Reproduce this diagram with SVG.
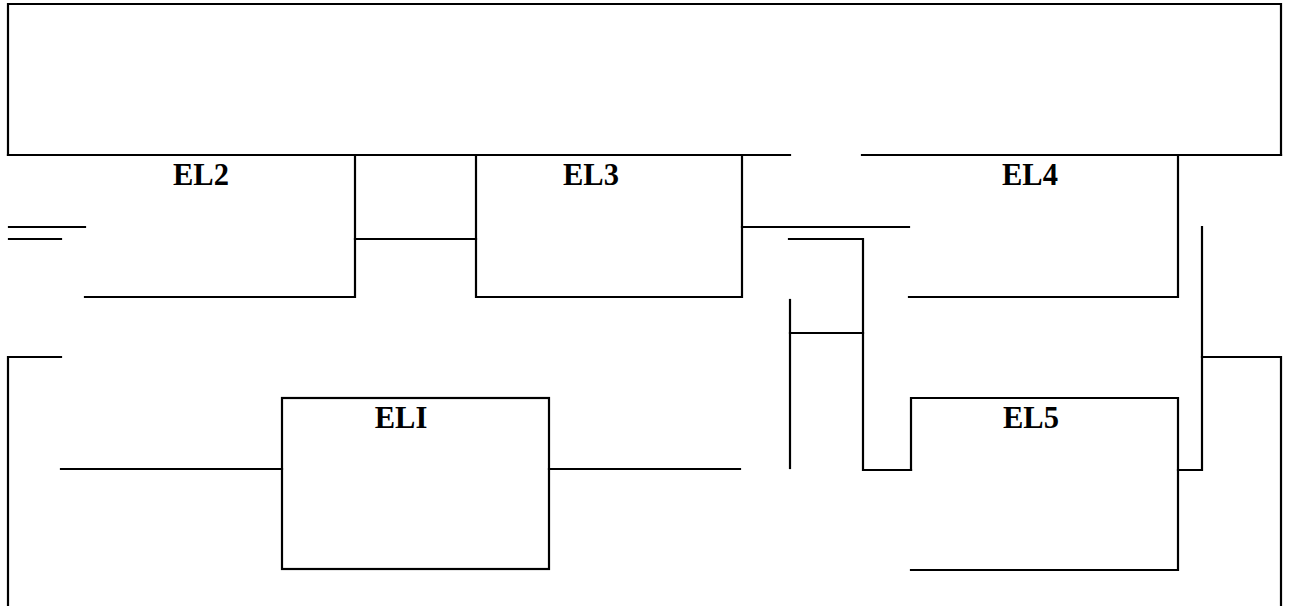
<svg xmlns="http://www.w3.org/2000/svg" width="1289" height="616" viewBox="0 0 1289 616">
<style>
.ln{fill:none;stroke:#000;stroke-width:2.2;stroke-linecap:square}
.lb{font-family:"Liberation Serif",serif;font-weight:bold;font-size:30.5px;fill:#000;text-anchor:middle}
</style>
<rect x="0" y="0" width="1289" height="616" fill="#fff"/>
<g id="frame">
<path class="ln" d="M8,155 V4 H1281 V155"/>
<path class="ln" d="M8,155 H790 M862,155 H1281"/>
<path class="ln" d="M61,357 H8 V605"/>
<path class="ln" d="M1202,357 H1281 V605"/>
</g>
<g id="EL2">
<path class="ln" d="M85,155 H355 V297 H85"/>
<text class="lb" x="201" y="185">EL2</text>
</g>
<g id="EL3">
<path class="ln" d="M476,155 V297 H742 V155"/>
<text class="lb" x="591" y="185">EL3</text>
</g>
<g id="EL4">
<path class="ln" d="M909,297 H1178 V155"/>
<text class="lb" x="1030" y="185">EL4</text>
</g>
<g id="ELI">
<rect class="ln" x="282" y="398" width="267" height="171"/>
<text class="lb" x="401" y="428">ELI</text>
</g>
<g id="EL5">
<path class="ln" d="M911,470 V398 H1178 V570 H911"/>
<text class="lb" x="1031" y="428">EL5</text>
</g>
<g id="connectors">
<path class="ln" d="M9,227 H85"/>
<path class="ln" d="M9,239 H61"/>
<path class="ln" d="M355,239 H476"/>
<path class="ln" d="M742,227 H909"/>
<path class="ln" d="M789,239 H863 V470 H911"/>
<path class="ln" d="M790,300 V468"/>
<path class="ln" d="M790,333 H863"/>
<path class="ln" d="M1202,227 V470 H1178"/>
<path class="ln" d="M61,469 H282"/>
<path class="ln" d="M549,469 H740"/>
</g>
</svg>
